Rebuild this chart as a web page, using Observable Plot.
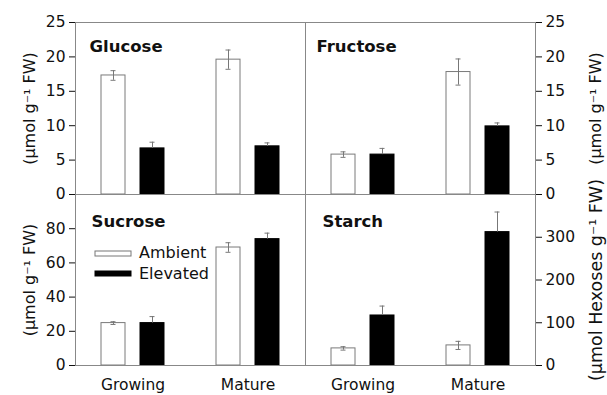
<!DOCTYPE html>
<html>
<head>
<meta charset="utf-8">
<script src="https://cdn.jsdelivr.net/npm/d3@7"></script>
<script src="https://cdn.jsdelivr.net/npm/@observablehq/plot@0.6"></script>
<style>
  body { margin: 0; background: #fff; }
  #chart { position: relative; width: 607px; height: 395px; font-family: "DejaVu Sans", sans-serif; color: #111; }
  #chart > svg { position: absolute; left: 0; top: 0; }
  #chart g[aria-label="y-axis tick"] { stroke: #888; }
  #legend { position: absolute; left: 95px; top: 243px; width: 130px; font: 16px "DejaVu Sans", sans-serif; color: #111; }
  #legend > div { display: flex !important; flex-direction: column !important; align-items: flex-start !important; margin: 0 !important; min-height: 0 !important; columns: auto !important; }
  #legend > div > :not(style) { display: flex !important; align-items: center !important; height: 20.5px; margin: 0 !important; padding: 0 !important; line-height: 20.5px; }
  #legend svg { margin-right: 8px !important; overflow: visible; flex: none; }
  #legend svg rect { stroke: #777; stroke-width: 1px; }
  #legend > div > :last-child svg rect { stroke: #000; }
</style>
</head>
<body>
<div id="chart"><div id="legend"></div></div>
<script>
// Leaf developmental stages and CO2 treatments
const stages = ["Growing", "Mature"];
const treatments = ["Ambient", "Elevated"];

// Soluble sugars, µmol g⁻¹ FW (mean and standard error per stage)
const glucoseAmbient = [17.3, 19.6];
const glucoseAmbientErr = [0.7, 1.4];
const glucoseElevated = [6.7, 7.0];
const glucoseElevatedErr = [0.9, 0.5];

const fructoseAmbient = [5.8, 17.8];
const fructoseAmbientErr = [0.4, 1.9];
const fructoseElevated = [5.8, 9.9];
const fructoseElevatedErr = [0.9, 0.5];

const sucroseAmbient = [24.8, 69.0];
const sucroseAmbientErr = [0.8, 2.8];
const sucroseElevated = [24.8, 73.9];
const sucroseElevatedErr = [3.8, 3.5];

// Starch, µmol hexoses g⁻¹ FW
const starchAmbient = [40, 47];
const starchAmbientErr = [4, 9.5];
const starchElevated = [117, 312];
const starchElevatedErr = [22, 47];

// Axis ticks per panel
const sugarTicks = [0, 5, 10, 15, 20, 25];
const sucroseTicks = [0, 20, 40, 60, 80];
const starchTicks = [0, 100, 200, 300];

const sugarLabel = "(µmol g⁻¹ FW)";
const starchLabel = "(µmol Hexoses g⁻¹ FW)";

const W = 607, H = 395;
const colX = [[74, 305], [305, 535]];
const rowY = [[22, 194], [194, 365]];

function records(ambient, ambientErr, elevated, elevatedErr) {
  return stages.flatMap((stage, i) => [
    {stage, treatment: "Ambient", value: ambient[i], err: ambientErr[i]},
    {stage, treatment: "Elevated", value: elevated[i], err: elevatedErr[i]}
  ]);
}

function panel({title, data, domain, ticks, col, row, label, labelSize, titleDx, titleDy, labelDx}) {
  const [x0, x1] = colX[col];
  const [y0, y1] = rowY[row];
  const side = col === 0 ? "left" : "right";
  const isAmbient = d => d.treatment === "Ambient";
  const isElevated = d => d.treatment === "Elevated";
  const lo = d => isAmbient(d) ? d.value - d.err : d.value;
  const hi = d => d.value + d.err;
  return Plot.plot({
    width: W,
    height: H,
    marginLeft: x0,
    marginRight: W - x1,
    marginTop: y0,
    marginBottom: H - y1,
    style: {background: "transparent", fontFamily: "DejaVu Sans, sans-serif", fontSize: "15.5px", color: "#111", overflow: "visible"},
    fx: {domain: stages, padding: 0, axis: row === 1 ? "bottom" : null, label: null, tickSize: 0, tickPadding: 13},
    x: {domain: treatments, paddingInner: 0.39, paddingOuter: 0.64, axis: null},
    y: {domain, ticks, axis: side, label: null, tickSize: 6, tickPadding: 4},
    marks: [
      Plot.barY(data, {filter: isAmbient, fx: "stage", x: "treatment", y: "value", fill: "white", stroke: "#7a7a7a"}),
      Plot.barY(data, {filter: isElevated, fx: "stage", x: "treatment", y: "value", fill: "black", stroke: "black"}),
      Plot.ruleX(data, {fx: "stage", x: "treatment", y1: lo, y2: hi, stroke: "#777"}),
      Plot.tickY(data, {fx: "stage", x: "treatment", y: hi, stroke: "#777", insetLeft: 9.5, insetRight: 9.5}),
      Plot.tickY(data, {filter: isAmbient, fx: "stage", x: "treatment", y: lo, stroke: "#777", insetLeft: 9.5, insetRight: 9.5}),
      Plot.frame({facet: "super", stroke: "#888"}),
      Plot.text([title], {facet: "super", frameAnchor: "top-left", textAnchor: "start", lineAnchor: "top", dx: titleDx, dy: titleDy, fontWeight: "bold", fontSize: 16.5, fill: "#111"}),
      Plot.text([label], {facet: "super", frameAnchor: side, rotate: -90, textAnchor: "middle", lineAnchor: "middle", dx: labelDx, fontSize: labelSize, fill: "#111"})
    ]
  });
}

const chart = document.getElementById("chart");
const panels = [
  {title: "Glucose", data: records(glucoseAmbient, glucoseAmbientErr, glucoseElevated, glucoseElevatedErr), domain: [0, 25], ticks: sugarTicks, col: 0, row: 0, label: sugarLabel, labelSize: 16, titleDx: 14, titleDy: 18, labelDx: -46},
  {title: "Fructose", data: records(fructoseAmbient, fructoseAmbientErr, fructoseElevated, fructoseElevatedErr), domain: [0, 25], ticks: sugarTicks, col: 1, row: 0, label: sugarLabel, labelSize: 16, titleDx: 11, titleDy: 18, labelDx: 60},
  {title: "Sucrose", data: records(sucroseAmbient, sucroseAmbientErr, sucroseElevated, sucroseElevatedErr), domain: [0, 100], ticks: sucroseTicks, col: 0, row: 1, label: sugarLabel, labelSize: 16, titleDx: 16, titleDy: 21, labelDx: -46},
  {title: "Starch", data: records(starchAmbient, starchAmbientErr, starchElevated, starchElevatedErr), domain: [0, 400], ticks: starchTicks, col: 1, row: 1, label: starchLabel, labelSize: 17.5, titleDx: 17, titleDy: 21, labelDx: 61}
];
const legendNode = document.getElementById("legend");
for (const p of panels) chart.insertBefore(panel(p), legendNode);

legendNode.appendChild(Plot.legend({
  color: {type: "categorical", domain: treatments, range: ["white", "black"]},
  swatchWidth: 36,
  swatchHeight: 5,
  style: {fontFamily: "DejaVu Sans, sans-serif", fontSize: "16px", color: "#111", background: "transparent"}
}));
</script>
</body>
</html>
